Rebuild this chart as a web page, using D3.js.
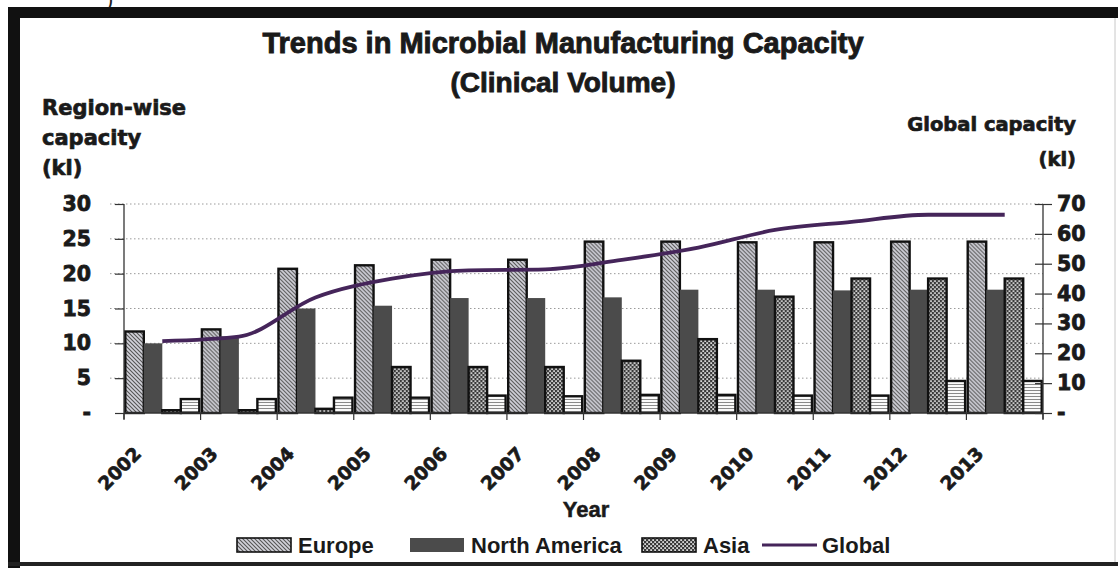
<!DOCTYPE html>
<html>
<head>
<meta charset="utf-8">
<script src="https://cdn.jsdelivr.net/npm/d3@7"></script>
<style>
  body { margin: 0; background: #fff; }
  svg { display: block; }
</style>
</head>
<body>
<svg id="chart" width="1118" height="568"></svg>
<script>
// Capacity in kl per region (left axis) and global total (right axis)
const years = ["2002", "2003", "2004", "2005", "2006", "2007", "2008", "2009", "2010", "2011", "2012", "2013"];
const europe = [11.7, 12.0, 20.7, 21.2, 22.0, 22.0, 24.6, 24.6, 24.5, 24.5, 24.6, 24.6];
const northAmerica = [10.0, 11.0, 15.0, 15.4, 16.5, 16.5, 16.6, 17.7, 17.7, 17.6, 17.7, 17.7];
const asia = [0.4, 0.4, 0.6, 6.6, 6.6, 6.6, 7.5, 10.6, 16.7, 19.3, 19.3, 19.3];
const otherRegions = [2.0, 2.0, 2.2, 2.2, 2.5, 2.4, 2.6, 2.6, 2.5, 2.5, 4.6, 4.6];
const globalCapacity = [24.1, 25.6, 38.7, 45.0, 47.8, 48.1, 51.3, 55.4, 61.3, 64.0, 66.4, 66.4];
const leftTicks = [0, 5, 10, 15, 20, 25, 30];
const rightTicks = [0, 10, 20, 30, 40, 50, 60, 70];
const legendItems = ["Europe", "North America", "Asia", "Global"];

const series = [
  { key: "Europe", values: europe, fill: "url(#hatchEurope)", outline: true },
  { key: "North America", values: northAmerica, fill: "#4b4b4b", outline: false },
  { key: "Asia", values: asia, fill: "url(#checkAsia)", outline: true },
  { key: "Other", values: otherRegions, fill: "url(#stripeOther)", outline: true }
];

const svg = d3.select("#chart");
const W = 1118, H = 568;
const plot = { left: 124, right: 1043, top: 204, bottom: 413 };
const heavy = "'DejaVu Sans', sans-serif";
const arial = "'Liberation Sans', Arial, sans-serif";

// ---- fill patterns ----
const defs = svg.append("defs");
const pHatch = defs.append("pattern").attr("id", "hatchEurope")
  .attr("patternUnits", "userSpaceOnUse").attr("width", 4).attr("height", 4);
pHatch.append("rect").attr("width", 4).attr("height", 4).attr("fill", "#d2d2da");
pHatch.append("path").attr("d", "M0,0L4,4M-1,3L1,5M3,-1L5,1")
  .attr("stroke", "#555").attr("stroke-width", 1.1);

const pCheck = defs.append("pattern").attr("id", "checkAsia")
  .attr("patternUnits", "userSpaceOnUse").attr("width", 4).attr("height", 4);
pCheck.append("rect").attr("width", 4).attr("height", 4).attr("fill", "#3a3a3a");
pCheck.append("rect").attr("x", 0.3).attr("y", 0.3).attr("width", 1.6).attr("height", 1.6).attr("fill", "#fff");
pCheck.append("rect").attr("x", 2.3).attr("y", 2.3).attr("width", 1.6).attr("height", 1.6).attr("fill", "#fff");

const pStripe = defs.append("pattern").attr("id", "stripeOther")
  .attr("patternUnits", "userSpaceOnUse").attr("width", 4).attr("height", 3);
pStripe.append("rect").attr("width", 4).attr("height", 3).attr("fill", "#fafafa");
pStripe.append("rect").attr("y", 0).attr("width", 4).attr("height", 1).attr("fill", "#8a8a8a");

// ---- page frame ----
svg.append("rect").attr("width", W).attr("height", H).attr("fill", "#fff");
svg.append("text").attr("x", 106).attr("y", 6).attr("font-family", arial)
  .attr("font-size", 22).attr("fill", "#222").text(")");
svg.append("rect").attr("x", 8).attr("y", 7).attr("width", W - 8).attr("height", 11).attr("fill", "#111");
svg.append("rect").attr("x", 8).attr("y", 7).attr("width", 12).attr("height", H - 7).attr("fill", "#111");
svg.append("rect").attr("x", 8).attr("y", 562).attr("width", W - 8).attr("height", 4).attr("fill", "#222");
svg.append("line").attr("x1", 1115).attr("x2", 1115).attr("y1", 18).attr("y2", 562)
  .attr("stroke", "#c8c8c8").attr("stroke-width", 1);

// ---- scales ----
const x0 = d3.scaleBand().domain(years).range([plot.left, plot.right]).padding(0);
const x1 = d3.scaleBand().domain(series.map(s => s.key)).range([0, x0.bandwidth()])
  .paddingInner(0).paddingOuter(0.07);
const yLeft = d3.scaleLinear().domain([0, 30]).range([plot.bottom, plot.top]);
const yRight = d3.scaleLinear().domain([0, 70]).range([plot.bottom, plot.top]);

// ---- gridlines ----
svg.append("g").selectAll("line").data(leftTicks.filter(t => t > 0)).join("line")
  .attr("x1", plot.left - 14).attr("x2", plot.right)
  .attr("y1", d => yLeft(d)).attr("y2", d => yLeft(d))
  .attr("stroke", "#9a9a9a").attr("stroke-width", 1).attr("stroke-dasharray", "1.5,2.5");

// ---- bars ----
const groups = svg.append("g").selectAll("g").data(years).join("g")
  .attr("transform", d => `translate(${x0(d)},0)`);
groups.selectAll("rect").data((yr, i) => series.map(s => ({ s, v: s.values[i] }))).join("rect")
  .attr("x", d => x1(d.s.key))
  .attr("width", x1.bandwidth())
  .attr("y", d => yLeft(d.v))
  .attr("height", d => yLeft(0) - yLeft(d.v))
  .attr("fill", d => d.s.fill)
  .attr("stroke", d => d.s.outline ? "#111" : "none")
  .attr("stroke-width", 2.4);

// ---- global line ----
const line = d3.line()
  .x((d, i) => x0(years[i]) + x0.bandwidth() / 2)
  .y(d => yRight(d))
  .curve(d3.curveMonotoneX);
svg.append("path").datum(globalCapacity).attr("d", line)
  .attr("fill", "none").attr("stroke", "#45255a").attr("stroke-width", 3.8);

// ---- axes ----
const tickFmt = d => d === 0 ? "-" : d;
const axL = svg.append("g").attr("transform", `translate(${plot.left},0)`)
  .call(d3.axisLeft(yLeft).tickValues(leftTicks).tickFormat(tickFmt).tickSize(9).tickPadding(24));
axL.select(".domain").attr("d", `M0,${plot.top}V${plot.bottom + 6}`).attr("stroke", "#333").attr("stroke-width", 1.3);
axL.selectAll(".tick line").attr("stroke", "#333").attr("stroke-width", 1.2);

const axR = svg.append("g").attr("transform", `translate(${plot.right},0)`)
  .call(d3.axisRight(yRight).tickValues(rightTicks).tickFormat(tickFmt).tickSize(9).tickPadding(5));
axR.select(".domain").attr("d", `M0,${plot.top}V${plot.bottom + 6}`).attr("stroke", "#333").attr("stroke-width", 1.3);
axR.selectAll(".tick line").attr("x1", -8).attr("stroke", "#333").attr("stroke-width", 1.2);

[axL, axR].forEach(ax => {
  ax.selectAll(".tick text").attr("font-family", heavy).attr("font-weight", "bold")
    .attr("font-size", 20.5).attr("fill", "#1a1a1a").attr("stroke", "#1a1a1a").attr("stroke-width", 0.8);
  ax.attr("font-family", null);
});

const boundaries = years.map(y => x0(y)).concat([plot.right]);
const axB = svg.append("g");
axB.append("line").attr("x1", plot.left).attr("x2", plot.right)
  .attr("y1", plot.bottom).attr("y2", plot.bottom).attr("stroke", "#333").attr("stroke-width", 1.3);
axB.selectAll("line.tk").data(boundaries).join("line").attr("class", "tk")
  .attr("x1", d => d).attr("x2", d => d).attr("y1", plot.bottom).attr("y2", plot.bottom + 7)
  .attr("stroke", "#333").attr("stroke-width", 1.2);
axB.selectAll("text").data(years).join("text")
  .attr("transform", d => `translate(${x0(d) + x0.bandwidth() / 2 - 20},${plot.bottom + 42}) rotate(-45)`)
  .attr("text-anchor", "end")
  .attr("font-family", heavy).attr("font-weight", "bold").attr("font-size", 18.5)
  .attr("fill", "#1a1a1a").attr("stroke", "#1a1a1a").attr("stroke-width", 0.7)
  .text(d => d);

// ---- titles ----
const title = svg.append("g").attr("font-family", arial).attr("font-weight", "bold")
  .attr("fill", "#1a1a1a").attr("text-anchor", "middle")
  .attr("stroke", "#1a1a1a").attr("stroke-width", 0.9);
title.append("text").attr("x", 563).attr("y", 53).attr("font-size", 29)
  .text("Trends in Microbial Manufacturing Capacity");
title.append("text").attr("x", 563).attr("y", 92).attr("font-size", 28)
  .text("(Clinical Volume)");

const axisTitle = svg.append("g").attr("font-family", heavy).attr("font-weight", "bold")
  .attr("fill", "#1a1a1a").attr("stroke", "#1a1a1a").attr("stroke-width", 0.7);
["Region-wise", "capacity", "(kl)"].forEach((t, i) =>
  axisTitle.append("text").attr("x", 42).attr("y", 115 + i * 30).attr("font-size", 21).text(t));
axisTitle.append("text").attr("x", 1076).attr("y", 131).attr("text-anchor", "end")
  .attr("font-size", 19.5).text("Global capacity");
axisTitle.append("text").attr("x", 1076).attr("y", 166).attr("text-anchor", "end")
  .attr("font-size", 19.5).text("(kl)");

svg.append("text").attr("x", 586).attr("y", 517).attr("text-anchor", "middle")
  .attr("font-family", arial).attr("font-weight", "bold").attr("font-size", 22)
  .attr("fill", "#1a1a1a").attr("stroke", "#1a1a1a").attr("stroke-width", 0.5).text("Year");

// ---- legend ----
const legendSwatch = [
  { fill: "url(#hatchEurope)", outline: true },
  { fill: "#4b4b4b", outline: false },
  { fill: "url(#checkAsia)", outline: true },
  { line: true }
];
const legendX = [237, 410, 642, 762];
const legend = svg.append("g");
legendItems.forEach((name, i) => {
  const g = legend.append("g").attr("transform", `translate(${legendX[i]},545)`);
  const sw = legendSwatch[i];
  if (sw.line) {
    g.append("line").attr("x1", 0).attr("x2", 55).attr("y1", 0).attr("y2", 0)
      .attr("stroke", "#45255a").attr("stroke-width", 3);
  } else {
    g.append("rect").attr("x", 0).attr("y", -7).attr("width", 54).attr("height", 14)
      .attr("fill", sw.fill).attr("stroke", sw.outline ? "#111" : "none").attr("stroke-width", 1.6);
  }
  g.append("text").attr("x", i === 3 ? 60 : 61).attr("y", 8)
    .attr("font-family", arial).attr("font-weight", "bold").attr("font-size", 22)
    .attr("fill", "#1a1a1a").text(name);
});
</script>
</body>
</html>
